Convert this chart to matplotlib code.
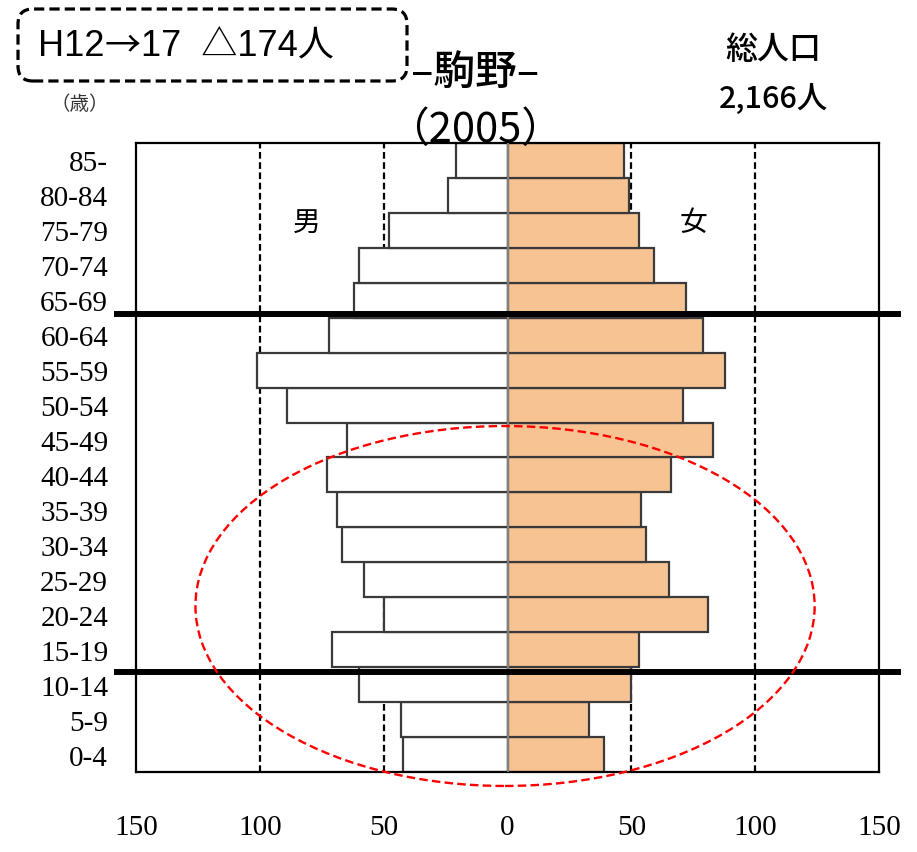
import numpy as np
import matplotlib.pyplot as plt
from matplotlib.patches import Ellipse, FancyBboxPatch

ages = ['0-4', '5-9', '10-14', '15-19', '20-24', '25-29', '30-34', '35-39',
        '40-44', '45-49', '50-54', '55-59', '60-64', '65-69', '70-74',
        '75-79', '80-84', '85-']
male = [42, 43, 60, 71, 50, 58, 67, 69, 73, 65, 89, 101, 72, 62, 60, 48, 24, 21]
female = [39, 33, 50, 53, 81, 65, 56, 54, 66, 83, 71, 88, 79, 72, 59, 53, 49, 47]
xticks = [-150, -100, -50, 0, 50, 100, 150]
xticklabels = ['150', '100', '50', '0', '50', '100', '150']

cjk = ['Noto Sans CJK JP', 'DejaVu Sans']

fig = plt.figure(figsize=(9.17, 8.53), dpi=100)
ax = fig.add_axes([0.1483, 0.0938, 0.8103, 0.7374])

y = np.arange(len(ages))
ax.barh(y, [-m for m in male], height=1.0, color='white', edgecolor='#3a3a3a',
        linewidth=1.6, zorder=2)
ax.barh(y, female, height=1.0, color='#F8C393', edgecolor='#3a3a3a',
        linewidth=1.6, zorder=2)
ax.axvline(0, color='#808080', lw=1.6, zorder=3)

for gx in (-100, -50, 50, 100):
    ax.axvline(gx, color='black', lw=1.6, ls=(0, (3, 1.6)), zorder=1)

# age-band separators (65+ / 15-64 / 0-14)
for hy in (12.6, 2.37):
    ax.plot([-0.025, 1.025], [hy, hy], transform=ax.get_yaxis_transform(),
            color='black', lw=4.3, clip_on=False, zorder=4)

ax.set_xlim(-150, 150)
ax.set_ylim(-0.5, len(ages) - 0.5)
ax.set_yticks(y)
ax.set_yticklabels(ages, family='Liberation Serif', fontsize=21)
ax.set_xticks(xticks)
ax.set_xticklabels(xticklabels, family='Liberation Serif', fontsize=21)
ax.tick_params(axis='y', length=0, pad=20)
ax.tick_params(axis='x', length=0, pad=30)
for s in ax.spines.values():
    s.set_linewidth(1.6)
    s.set_color('black')

ell = Ellipse((-1, 4.25), 250, 10.3, fill=False, edgecolor='red', lw=1.7,
              ls=(0, (3.6, 1.8)), clip_on=False, zorder=5)
ax.add_patch(ell)

ax.text(-81, 15.25, '男', family=cjk, fontsize=20, ha='center', va='center')
ax.text(75, 15.25, '女', family=cjk, fontsize=20, ha='center', va='center')

W, H = 917, 853
def fx(px):
    return px / W
def fy(py):
    return 1 - py / H

fig.text(fx(475), fy(72), '–駒野–', family=cjk, fontsize=30,
         fontweight='medium', ha='center', va='center')
fig.text(fx(475), fy(130), '（2005）', family=cjk, fontsize=30,
         ha='center', va='center')
fig.text(fx(773), fy(50), '総人口', family=cjk, fontsize=23,
         fontweight='medium', ha='center', va='center')
fig.text(fx(773), fy(100), '2,166人', family=cjk, fontsize=22,
         fontweight='medium', ha='center', va='center')
fig.text(fx(80), fy(105), '（歳）', family=cjk, fontsize=14,
         color='#333333', ha='center', va='center')

box = FancyBboxPatch((0.18 + 0.12, 7.71 + 0.12), 3.89 - 0.24, 0.72 - 0.24,
                     boxstyle='round,pad=0.12,rounding_size=0.15',
                     transform=fig.dpi_scale_trans, fill=False,
                     edgecolor='black', lw=2.3, ls=(0, (3.2, 1.6)))
fig.patches.append(box)
latin = ['Liberation Sans', 'Noto Sans CJK JP', 'DejaVu Sans']
t1 = fig.text(fx(38), fy(46), 'H12', family=latin, fontsize=26,
              ha='left', va='center')
t2 = ax.annotate('→', xy=(1, 0.5), xycoords=t1, family=cjk, fontsize=26,
                 ha='left', va='center', annotation_clip=False)
ax.annotate('17  △174人', xy=(1, 0.5), xycoords=t2, family=latin,
            fontsize=26, ha='left', va='center', annotation_clip=False)

fig.savefig('out.png', dpi=100)
